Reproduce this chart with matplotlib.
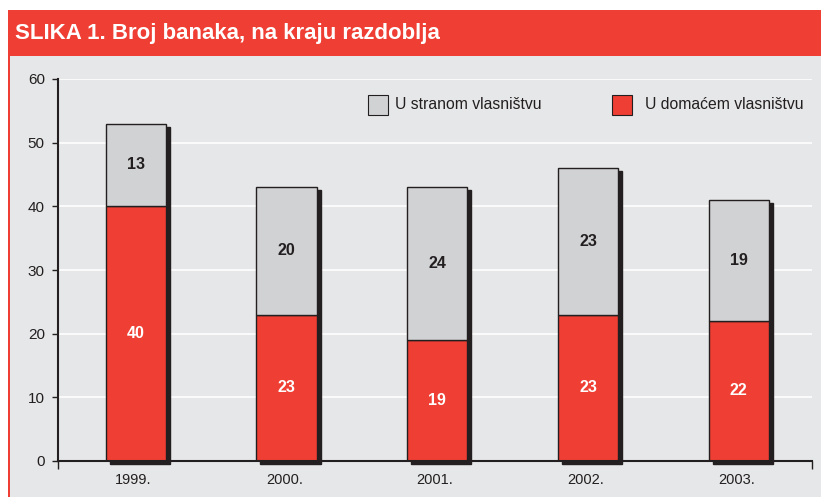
import matplotlib.pyplot as plt
from matplotlib.patches import Rectangle
from matplotlib.transforms import ScaledTranslation

# data
years = ['1999.', '2000.', '2001.', '2002.', '2003.']
domestic = [40, 23, 19, 23, 22]
foreign = [13, 20, 24, 23, 19]
yticks = [0, 10, 20, 30, 40, 50, 60]

RED = '#ef3e33'
GRAY = '#d1d2d4'
BG = '#e6e7e8'
DARK = '#231f20'

plt.rcParams['font.family'] = ['Liberation Sans', 'DejaVu Sans']

W, H = 821, 497
fig = plt.figure(figsize=(W / 100, H / 100), dpi=100, facecolor='white')

# title bar and gray panel
fig.patches.append(Rectangle((8 / W, 0), 1, 1 - 56 / H, transform=fig.transFigure,
                             facecolor=BG, edgecolor='none', zorder=-2))
fig.patches.append(Rectangle((8 / W, 0), 1.5 / W, 1 - 56 / H, transform=fig.transFigure,
                             facecolor=RED, edgecolor='none', zorder=-1))
fig.patches.append(Rectangle((8 / W, 1 - 56 / H), 1, 46 / H, transform=fig.transFigure,
                             facecolor=RED, edgecolor='none', zorder=-1))
fig.text(15 / W, 1 - 34 / H, 'SLIKA 1. Broj banaka, na kraju razdoblja', color='white',
         fontsize=16, fontweight='bold', va='center', ha='left')

ax = fig.add_axes([58 / W, 36 / H, 754 / W, 382 / H])
ax.set_facecolor('none')

x = list(range(len(years)))
width = 0.4
totals = [d + f for d, f in zip(domestic, foreign)]

# sjena iza stupaca
shadow = ax.bar([i + 0.015 for i in x], totals, width=width, color=DARK, edgecolor=DARK, zorder=2)
off = ScaledTranslation(4 / 100, -3 / 100, fig.dpi_scale_trans)
for b in shadow:
    b.set_transform(ax.transData + off)
    b.set_clip_on(False)

ax.bar([i + 0.015 for i in x], domestic, width=width, color=RED, edgecolor=DARK, linewidth=1, zorder=3)
ax.bar([i + 0.015 for i in x], foreign, bottom=domestic, width=width, color=GRAY, edgecolor=DARK,
       linewidth=1, zorder=3)

for i in x:
    ax.text(i + 0.015, domestic[i] / 2, str(domestic[i]), ha='center', va='center',
            color='white', fontsize=11.5, fontweight='bold', zorder=4)
    ax.text(i + 0.015, domestic[i] + foreign[i] / 2, str(foreign[i]), ha='center', va='center',
            color=DARK, fontsize=11.5, fontweight='bold', zorder=4)

ax.set_xlim(-0.5, len(years) - 0.5)
ax.set_ylim(0, 60)
ax.set_yticks(yticks)
ax.set_xticks(x)
ax.set_xticklabels(years)
ax.set_xticks([-0.5, len(years) - 0.5], minor=True)
ax.tick_params(axis='x', which='major', length=0, pad=9, labelsize=10.5, colors=DARK)
ax.tick_params(axis='x', which='minor', length=6, width=1, color=DARK, direction='out')
ax.tick_params(axis='y', length=4.5, width=1, color=DARK, labelsize=11, labelcolor=DARK, pad=5)
ax.grid(axis='y', color='white', linewidth=1.2, zorder=1)
ax.set_axisbelow(True)
for s in ['top', 'right']:
    ax.spines[s].set_visible(False)
for s in ['left', 'bottom']:
    ax.spines[s].set_color(DARK)
    ax.spines[s].set_linewidth(1.5)
    ax.spines[s].set_zorder(5)

# legenda
for lx, tx, lab, col in [(368, 395, 'U stranom vlasništvu', GRAY), (612, 645, 'U domaćem vlasništvu', RED)]:
    fig.patches.append(Rectangle((lx / W, 1 - 115 / H), 20 / W, 20 / H, transform=fig.transFigure,
                                 facecolor=col, edgecolor=DARK, linewidth=0.8, zorder=5))
    fig.text(tx / W, 1 - 105 / H, lab, fontsize=11.3, color=DARK, va='center', ha='left')

fig.savefig('out.png', dpi=100)
